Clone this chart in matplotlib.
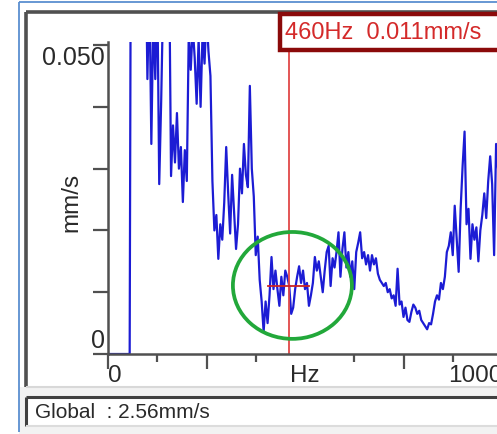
import numpy as np
import matplotlib
matplotlib.use("Agg")
import matplotlib.pyplot as plt
from matplotlib.patches import Ellipse, Rectangle
from matplotlib.lines import Line2D
import matplotlib.transforms as mtransforms

plt.rcParams['font.family'] = ['Liberation Sans', 'DejaVu Sans']

# ---- data (spectrum, 5 Hz bins, mm/s) ----
freq_step_hz = 5
velocity_mm_s = [
    0, 0, 0, 0, 0, 0, 0, 0, 0, 0, 0, 0,
    0.12,
    0.09, 0.07, 0.08, 0.065, 0.075, 0.06, 0.07,
    0.0445, 0.06, 0.034, 0.055, 0.0445, 0.06, 0.0275, 0.041, 0.058, 0.07, 0.06, 0.065,
    0.0288, 0.037, 0.031, 0.039, 0.030, 0.0335, 0.0246, 0.033, 0.028,
    0.052, 0.046, 0.053, 0.048, 0.0405, 0.051, 0.040, 0.052, 0.047, 0.055, 0.049, 0.045,
    0.028, 0.020, 0.0225, 0.0154, 0.021,
    0.0185, 0.0245, 0.0335, 0.026,
    0.0195, 0.029, 0.023, 0.017,
    0.021, 0.030, 0.026, 0.034, 0.029,
    0.027, 0.0434, 0.030,
    0.0255, 0.016, 0.019,
    0.012, 0.0085, 0.0036, 0.0085, 0.005,
    0.0095, 0.0157, 0.0105, 0.0135,
    0.0105, 0.0078, 0.0125, 0.0095, 0.0135,
    0.0125, 0.011, 0.0065, 0.0075, 0.0105,
    0.0125, 0.0142, 0.0115, 0.0135, 0.0105, 0.0115, 0.0078, 0.0095,
    0.0115, 0.0157, 0.0135, 0.015, 0.0125, 0.010, 0.0135,
    0.0165, 0.0175, 0.011, 0.0155, 0.014, 0.0165, 0.0197, 0.0125, 0.017,
    0.0197, 0.014, 0.0165, 0.0125, 0.015, 0.0105, 0.0165,
    0.018, 0.0197, 0.0155,
    0.0165, 0.0145, 0.016, 0.0135, 0.016, 0.0145, 0.0155, 0.013,
    0.012, 0.0115, 0.011, 0.0115, 0.010, 0.0105, 0.009, 0.0095, 0.0078,
    0.0138, 0.008,
    0.0085, 0.006, 0.0075, 0.0055, 0.0052, 0.0068, 0.0080,
    0.0075, 0.0065, 0.007, 0.0055, 0.005, 0.0045, 0.004, 0.005, 0.0048, 0.0065,
    0.0085, 0.0095, 0.0088, 0.0115, 0.0105, 0.0125, 0.0165,
    0.0175, 0.0197, 0.016, 0.024, 0.0185, 0.0133, 0.0235, 0.0304, 0.036, 0.021,
    0.0235, 0.0154, 0.021, 0.0185, 0.0205, 0.015, 0.020, 0.0225, 0.026, 0.022,
    0.028, 0.032, 0.0275, 0.016, 0.034, 0.030, 0.036, 0.031,
]
freqs_hz = np.arange(len(velocity_mm_s)) * freq_step_hz

cursor_hz = 460
cursor_val = 0.011
cursor_label = "460Hz  0.011mm/s"
global_label = "Global  : 2.56mm/s"
y_unit = "mm/s"
x_tick_pos = [0, 250, 500, 750, 1000]
x_tick_labels = ["0", "", "Hz", "", "1000"]
x_minor_pos = [125, 375, 625, 875]
y_tick_pos = [0, 0.01, 0.02, 0.03, 0.04, 0.05]

W, H = 497, 435
fig = plt.figure(figsize=(W / 100, H / 100), dpi=100)
fig.patch.set_facecolor('white')


def fx(x):
    return x / W


def fy(y):
    return 1 - y / H


def fline(x0, y0, x1, y1, color, lw, z=0):
    fig.add_artist(Line2D([fx(x0), fx(x1)], [fy(y0), fy(y1)], transform=fig.transFigure,
                          color=color, lw=lw, zorder=z, solid_capstyle='butt'))


# window chrome
fig.add_artist(Rectangle((fx(26), fy(388)), fx(600), fy(13) - fy(388), transform=fig.transFigure,
                         facecolor='white', edgecolor='none', zorder=-5))
fig.add_artist(Rectangle((fx(19), fy(435)), fx(600), fy(388) - fy(435), transform=fig.transFigure,
                         facecolor='#f2f2f2', edgecolor='none', zorder=-6))
fig.add_artist(Rectangle((fx(26), fy(427)), fx(600), fy(398) - fy(427), transform=fig.transFigure,
                         facecolor='white', edgecolor='none', zorder=-4))
fline(19, 3, 520, 3, '#5b8fd0', 1.3)
fline(19, 3, 19, 433, '#5b8fd0', 1.3)
fline(26, 13, 520, 13, '#505050', 2.6)
fline(26, 13, 26, 388, '#505050', 2.6)
fline(26, 388, 520, 388, '#d8d8d8', 1.5)
fline(26, 398, 520, 398, '#404040', 2.2)
fline(26, 398, 26, 427, '#404040', 2.2)
fline(26, 427, 520, 427, '#dcdcdc', 1.5)

# axes
ax = fig.add_axes([fx(108), fy(355), (502 - 108) / W, (355 - 43) / H])
ax.set_facecolor('none')
ax.set_xlim(0, 1000)
ax.set_ylim(0, 0.0505)

ax.plot(freqs_hz, velocity_mm_s, color='#1c1cd4', lw=1.6, zorder=2)

ax.axvline(cursor_hz, color='#e04848', lw=1.3, zorder=2.2)
ax.plot([cursor_hz - 55, cursor_hz + 50], [cursor_val, cursor_val], color='#cc2222', lw=1.3, zorder=5)
ax.add_patch(Ellipse((468, 0.0111), 302, 0.0173, fill=False, edgecolor='#22a83a', lw=2.7,
                     zorder=6, clip_on=False))

for s in ['top', 'right']:
    ax.spines[s].set_visible(False)
for s in ['left', 'bottom']:
    ax.spines[s].set_color('#505050')
    ax.spines[s].set_linewidth(1.8)
    ax.spines[s].set_zorder(4)

ax.set_xticks(x_tick_pos)
ax.set_xticklabels(x_tick_labels)
ax.set_xticks(x_minor_pos, minor=True)
ax.tick_params(axis='x', which='major', length=11, width=1.6, color='#505050',
               labelsize=17.5, pad=-4, labelcolor='#2a2a2a')
ax.tick_params(axis='x', which='minor', length=6, width=1.6, color='#505050')
ax.xaxis.get_major_ticks()[2].tick1line.set_visible(False)
xl = ax.get_xticklabels()
xl[0].set_ha('left')
xl[-1].set_ha('right')

ax.set_yticks(y_tick_pos)
ax.set_yticklabels([])
ax.tick_params(axis='y', which='major', length=11, width=1.6, color='#505050')

btr = mtransforms.blended_transform_factory(ax.transAxes, ax.transData)
ax.text(-0.008, 0.0500, "0.050", transform=btr, ha='right', va='top', fontsize=18, color='#2a2a2a')
ax.text(-0.008, 0.0003, "0", transform=btr, ha='right', va='bottom', fontsize=18, color='#2a2a2a')

fig.text(fx(71), fy(202), y_unit, rotation=90, ha='center', va='center', fontsize=17.5, color='#2a2a2a')

# cursor readout box
fig.add_artist(Rectangle((fx(280), fy(51)), fx(300), fy(15) - fy(51), transform=fig.transFigure,
                         facecolor='white', edgecolor='#8b0a0a', lw=3.2, zorder=10))
fig.text(fx(285), fy(33), cursor_label, ha='left', va='center', fontsize=17, color='#d42a2a', zorder=11)

fig.text(fx(35), fy(413), global_label, ha='left', va='center', fontsize=15, color='#2a2a2a')

fig.savefig("out.png", dpi=100)
